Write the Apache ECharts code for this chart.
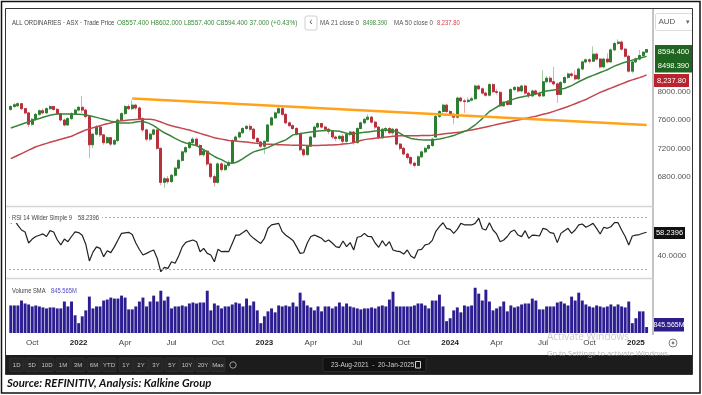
<!DOCTYPE html>
<html>
<head>
<meta charset="utf-8">
<title>ALL ORDINARIES weekly</title>
<script src="https://cdn.jsdelivr.net/npm/echarts@6/dist/echarts.min.js"></script>
<style>
html,body{margin:0;padding:0;background:#fff;}
#chart{width:702px;height:395px;}
</style>
</head>
<body>
<div id="chart"></div>
<script>
// ---------- data: weekly bars starting 23-Aug-2021 ----------
const firstWeek = '2021-08-23';
const opens = [
7750,7790,7800,7830,7760,7700,7540,7610,7680,7730,
7700,7760,7790,7750,7690,7600,7530,7620,7690,7740,
7780,7740,7650,7250,7400,7500,7390,7280,7350,7260,
7310,7600,7690,7790,7760,7810,7770,7620,7460,7330,
7400,7460,7200,6720,6770,6730,6820,6920,7030,7150,
7210,7280,7330,7240,7110,7160,6980,6800,6720,6980,
6900,6960,7000,7310,7360,7420,7480,7510,7470,7340,
7290,7230,7300,7530,7630,7700,7760,7680,7560,7520,
7480,7400,7180,7110,7230,7360,7500,7550,7500,7470,
7440,7360,7340,7370,7300,7400,7430,7280,7480,7560,
7610,7640,7570,7500,7350,7470,7480,7420,7470,7260,
7200,7120,7070,6990,6960,7080,7150,7200,7240,7360,
7650,7720,7810,7720,7680,7640,7910,7870,7860,7880,
7900,8080,8040,7980,7950,8100,8000,7990,7800,7850,
7820,8030,8060,8010,8080,7980,7940,8010,7970,7940,
8140,8190,8140,8110,7960,8130,8200,8250,8230,8180,
8320,8420,8450,8430,8530,8460,8350,8460,8420,8590,
8680,8700,8600,8500,8290,8420,8460,8510,8557.4];
const closes = [
7790,7815,7830,7760,7700,7540,7610,7680,7730,7700,
7760,7790,7750,7690,7600,7530,7620,7690,7740,7780,
7740,7650,7250,7400,7500,7390,7280,7350,7260,7310,
7600,7690,7790,7760,7810,7770,7620,7460,7330,7400,
7460,7200,6720,6770,6730,6820,6920,7030,7150,7210,
7280,7330,7240,7110,7160,6980,6800,6720,6980,6900,
6960,7000,7310,7360,7420,7480,7510,7470,7340,7290,
7230,7300,7530,7630,7700,7760,7680,7560,7520,7480,
7400,7180,7110,7230,7360,7500,7550,7500,7470,7440,
7360,7340,7370,7300,7400,7430,7280,7480,7560,7610,
7640,7570,7500,7350,7470,7480,7420,7470,7260,7200,
7120,7070,6990,6960,7080,7150,7200,7240,7330,7650,
7720,7810,7720,7680,7640,7910,7870,7860,7880,7900,
8080,8040,7980,7950,8100,8000,7990,7800,7850,7820,
8030,8060,8010,8080,7980,7940,8010,7970,7940,8140,
8190,8140,8110,7960,8130,8200,8250,8230,8180,8320,
8420,8450,8430,8530,8460,8350,8460,8420,8590,8680,
8700,8600,8500,8290,8420,8460,8510,8557.4,8594.4];
const lows = [
7730,7770,7780,7740,7680,7500,7520,7590,7660,7680,
7690,7740,7730,7670,7580,7510,7520,7600,7670,7720,
7700,7620,7060,7200,7380,7360,7250,7260,7230,7240,
7290,7580,7670,7740,7740,7740,7600,7430,7300,7300,
7380,7180,6680,6640,6700,6710,6800,6900,7010,7130,
7190,7260,7220,7090,7080,6950,6770,6660,6700,6870,
6880,6930,6990,7290,7340,7400,7460,7440,7320,7270,
7200,7120,7290,7520,7620,7690,7660,7540,7500,7460,
7380,7160,7080,7100,7220,7350,7480,7480,7440,7400,
7330,7300,7310,7240,7260,7370,7250,7270,7470,7540,
7590,7550,7470,7330,7330,7420,7400,7390,7240,7170,
7100,7040,6960,6930,6950,7060,7130,7180,7220,7350,
7630,7700,7700,7660,7540,7620,7850,7700,7840,7860,
7880,8020,7960,7930,7930,7980,7960,7780,7790,7800,
7810,8010,7990,7990,7960,7910,7920,7950,7920,7930,
8120,8120,8090,7840,7950,8110,8180,8200,8160,8170,
8300,8400,8400,8420,8440,8330,8330,8400,8410,8570,
8660,8580,8480,8270,8260,8400,8440,8480,8557.4];
const highs = [
7810,7840,7850,7840,7770,7710,7630,7700,7750,7760,
7780,7810,7800,7770,7700,7620,7640,7710,7760,7800,
7940,7760,7660,7420,7530,7520,7400,7370,7360,7330,
7620,7710,7810,7820,7880,7830,7790,7640,7480,7420,
7480,7470,7210,6800,6810,6840,6940,7050,7170,7230,
7300,7360,7350,7260,7180,7170,7000,6830,7000,7010,
6990,7030,7330,7380,7440,7500,7530,7540,7490,7360,
7300,7310,7540,7650,7720,7790,7780,7700,7580,7540,
7500,7410,7200,7250,7380,7520,7570,7560,7520,7490,
7460,7380,7390,7400,7420,7450,7440,7500,7580,7630,
7680,7660,7590,7510,7490,7500,7500,7490,7480,7280,
7220,7140,7090,7010,7100,7170,7220,7260,7350,7670,
7740,7830,7830,7740,7700,7930,7930,7900,7920,7930,
8100,8100,8060,8000,8120,8120,8040,8010,7870,7880,
8050,8080,8080,8100,8100,8000,8030,8030,8000,8300,
8220,8220,8350,8130,8150,8220,8270,8270,8300,8340,
8440,8470,8470,8640,8550,8470,8480,8540,8610,8700,
8740,8720,8620,8520,8440,8480,8590,8570,8602];
const ma21 = [
7486,7505,7522,7540,7558,7574,7590,7607,7622,7638,
7652,7666,7679,7683,7685,7686,7685,7684,7682,7681,
7679,7670,7660,7650,7637,7623,7610,7597,7584,7572,
7560,7558,7558,7559,7562,7572,7580,7580,7566,7545,
7520,7487,7450,7420,7395,7370,7340,7315,7292,7275,
7262,7250,7238,7210,7180,7150,7115,7085,7060,7040,
7012,6990,6990,7000,7025,7054,7090,7122,7150,7166,
7180,7195,7210,7235,7260,7280,7300,7320,7355,7390,
7400,7408,7416,7425,7432,7438,7445,7449,7452,7455,
7450,7445,7440,7428,7414,7400,7405,7414,7420,7426,
7432,7438,7444,7450,7455,7460,7455,7448,7438,7410,
7380,7360,7340,7332,7325,7320,7318,7317,7318,7325,
7333,7342,7355,7368,7380,7400,7420,7440,7460,7495,
7530,7575,7620,7670,7720,7750,7780,7812,7845,7862,
7880,7898,7915,7925,7935,7945,7957,7968,7980,7995,
8010,8017,8024,8030,8038,8045,8065,8086,8113,8140,
8165,8190,8210,8230,8250,8270,8290,8310,8335,8360,
8380,8400,8415,8430,8445,8460,8472,8485,8498.39];
const ma50 = [
7054,7078,7102,7126,7150,7174,7198,7222,7238,7254,
7270,7285,7300,7314,7328,7342,7356,7370,7393,7416,
7438,7460,7475,7490,7505,7520,7535,7547,7559,7571,
7582,7588,7594,7600,7604,7607,7609,7610,7610,7609,
7605,7590,7572,7552,7532,7518,7506,7494,7482,7470,
7460,7443,7427,7411,7395,7380,7365,7350,7340,7330,
7320,7310,7306,7302,7298,7294,7288,7282,7276,7270,
7265,7260,7258,7256,7254,7252,7250,7248,7246,7245,
7244,7243,7242,7241,7240,7240,7241,7243,7244,7246,
7247,7251,7255,7260,7265,7270,7283,7296,7310,7323,
7330,7336,7342,7348,7354,7360,7365,7370,7375,7376,
7377,7378,7378,7379,7379,7380,7380,7380,7384,7390,
7396,7402,7408,7414,7420,7425,7430,7440,7450,7460,
7470,7480,7491,7502,7513,7524,7535,7546,7557,7568,
7579,7590,7600,7611,7622,7633,7644,7654,7667,7680,
7692,7705,7722,7739,7756,7773,7790,7810,7830,7850,
7870,7890,7915,7940,7965,7990,8010,8030,8050,8070,
8090,8110,8130,8150,8166,8182,8198,8215,8237.8];
const rsi14 = [
65.1,67.7,63.5,60,58.5,50,53,55,56,57,
55,59.5,58.5,52.5,48.5,53,51,55,58.5,58,
56,49,36.2,43,47,45.9,39.5,44,42.6,47,
52.3,57.4,57.8,58.2,56.5,50,45,40.8,42,43.5,
44.6,38.2,27.9,31.3,30.5,35.6,34.4,40,47,50.5,
51.5,52.3,51,43.3,45.9,42,40.8,35.6,45.1,43.3,
43.5,43.3,49.7,56.1,56.1,58,60,56.1,53.6,51.5,
49.7,53.6,61.3,63.9,64.5,65.1,58.7,56,54,52,
47.2,42,42.5,50,55,56.1,54.9,53.6,51,52.3,
50,47.2,46.5,51.5,47.2,50.3,44.6,54.4,55,57.4,
55,54.9,50,46.7,51.8,47.7,51,44.6,43.8,43.3,
41.5,44.6,40,38.2,44.6,45.1,48.5,49.2,52,59,
62.6,65.6,61.3,60.5,57.4,60.5,65.1,64,63.9,63.9,
65.1,69,61,60,65.6,60,57,51,52.3,55,
58.7,60,56.1,54.9,59.5,53.6,56.1,55.8,55.4,61.3,
60.5,58,57.4,50.3,57.4,59.5,61.3,57.4,60,63.9,
64.6,62.1,63.5,65.1,61.3,56.9,62.1,61.3,62.5,65.6,
65.6,60,55,48.5,55.4,56,56.5,57.5,58.2396];
const volumeBn = [
3.92,3.92,3.92,4.62,4.2,4.06,3.78,3.92,3.78,3.64,
3.5,3.64,3.64,3.5,3.5,4.48,3.78,4.48,2.52,1.4,
2.38,3.22,5.18,3.5,3.78,3.78,4.62,4.76,5.04,4.9,
4.9,5.32,5.04,3.36,3.36,3.78,4.48,5.04,3.78,4.48,
5.32,4.48,6.02,4.62,5.18,3.5,3.78,3.78,3.92,3.78,
4.2,4.34,4.2,4.34,4.34,6.02,3.22,4.2,3.92,3.5,
3.78,3.78,4.06,4.34,4.2,3.78,4.9,3.92,4.48,3.22,
1.4,2.38,3.08,3.5,2.94,3.92,3.78,3.92,3.78,4.34,
3.78,5.74,4.62,3.92,3.64,3.22,3.78,3.08,3.78,3.78,
3.5,3.78,4.34,3.78,4.2,3.78,3.64,3.5,3.36,3.5,
3.5,3.64,3.5,3.78,3.92,3.78,4.76,5.88,3.78,3.78,
3.78,3.78,3.78,3.92,4.2,4.2,3.92,3.5,4.62,4.62,
5.46,3.78,1.68,2.1,3.22,3.64,2.94,3.92,3.78,3.92,
6.44,5.6,4.62,6.16,4.48,3.22,3.5,3.78,4.48,3.08,
3.92,3.64,3.78,4.06,4.2,4.2,4.9,4.62,3.36,3.36,
3.78,3.78,3.78,4.34,4.48,4.2,3.92,5.18,4.62,5.74,
4.62,4.06,3.78,3.64,3.92,3.78,3.64,3.78,4.06,3.78,
4.06,3.78,3.64,4.48,1.4,2.1,3.08,3.08,0.845565];
const priceTicks = [6800, 7200, 7600, 8000];
const rsiLevels = [70, 30];
const rsiTicks = [40];
const trendStart = {week: 34, value: 7905};
const trendEnd = {week: 178, value: 7528};
const quarterMonths = ['Jan', 'Apr', 'Jul', 'Oct'];
const rangeButtons = ['1D','5D','10D','1M','3M','6M','YTD','1Y','2Y','3Y','5Y','10Y','20Y','Max'];

// ---------- derived structures ----------
const N = closes.length;
const DAY = 864e5;
const t0 = Date.parse(firstWeek + 'T00:00:00Z');
const categories = closes.map((_, i) => new Date(t0 + i * 7 * DAY).toISOString().slice(0, 10));
const quarterLabel = {};
for (let y = 2021; y <= 2025; y++) {
  quarterMonths.forEach((name, q) => {
    const idx = Math.round((Date.UTC(y, q * 3, 1) - t0) / (7 * DAY));
    if (idx >= 0 && idx < N) quarterLabel[idx] = q === 0 ? '{yr|' + y + '}' : '{mo|' + name + '}';
  });
}
const candleFull = closes.map((c, i) => [opens[i], c, lows[i], highs[i]]);
const candleBody = closes.map((c, i) => [opens[i], c, Math.min(opens[i], c), Math.max(opens[i], c)]);

const L = N - 1;
const chg = closes[L] - closes[L - 1];
const pct = chg / closes[L - 1] * 100;
const ohlcText = 'O' + opens[L].toFixed(3) + ' H' + highs[L].toFixed(3) + ' L' + lows[L].toFixed(3) +
  ' C' + closes[L].toFixed(3) + ' ' + chg.toFixed(3) + ' (' + (pct >= 0 ? '+' : '') + pct.toFixed(2) + '%)';
const ma21Text = ma21[L].toFixed(3);
const ma50Text = ma50[L].toLocaleString('en-US', {minimumFractionDigits: 2, maximumFractionDigits: 2});
const rsiText = rsi14[L].toFixed(4);
const volText = (volumeBn[L] * 1000).toFixed(3) + 'M';
const MON = ['Jan','Feb','Mar','Apr','May','Jun','Jul','Aug','Sep','Oct','Nov','Dec'];
function fmtDate(s) { const p = s.split('-'); return p[2] + '-' + MON[+p[1] - 1] + '-' + p[0]; }

// ---------- graphics helpers ----------
const FONT = '"Liberation Sans", Arial, sans-serif';
function txt(x, y, text, size, fill, opt) {
  opt = opt || {};
  return {type: 'text', x: x, y: y, scaleX: opt.sx || 1, silent: true, z: opt.z || 120,
    style: {text: text, fill: fill,
      font: (opt.style || 'normal') + ' ' + (opt.weight || 'normal') + ' ' + size + 'px ' + (opt.family || FONT),
      textAlign: opt.align || 'left', textVerticalAlign: 'middle', verticalAlign: 'middle', opacity: opt.opacity == null ? 1 : opt.opacity}};
}
function box(x, y, w, h, fill, stroke, r, z, lw) {
  return {type: 'rect', silent: true, z: z || 110, shape: {x: x, y: y, width: w, height: h, r: r || 0},
    style: {fill: fill || 'none', stroke: stroke || null, lineWidth: lw || 1}};
}
function seg(x1, y1, x2, y2, color, w, z) {
  return {type: 'line', silent: true, z: z || 100, shape: {x1: x1, y1: y1, x2: x2, y2: y2}, style: {stroke: color, lineWidth: w || 1}};
}
const NARROW = 0.83;

const g = [];
// frames
g.push(box(1.5, 1.5, 698.5, 391.5, null, '#111', 0, 130, 1.5));
g.push(box(5.5, 8.5, 687, 366, null, '#333', 0, 130, 1));
g.push(seg(653, 8.5, 653, 335, '#8a8a8a', 1));
g.push(seg(5.5, 206.5, 653, 206.5, '#d4d4d4', 1.5));
g.push(seg(5.5, 278.5, 653, 278.5, '#d4d4d4', 1.5));
// header
g.push(txt(12, 23, 'ALL ORDINARIES \u00b7 ASX \u00b7 Trade Price', 7, '#444', {sx: 0.85}));
g.push(txt(117, 23, ohlcText, 7, '#3b8a3b', {sx: 0.92}));
g.push(box(305, 16, 12, 14, '#fff', '#cfcfcf', 2));
g.push(txt(311, 22.5, '\u2039', 10, '#555', {align: 'center'}));
g.push(txt(320, 23, 'MA 21 close 0', 7, '#555', {sx: 0.88}));
g.push(txt(363, 23, ma21Text, 7, '#3b8a3b', {sx: NARROW}));
g.push(txt(394, 23, 'MA 50 close 0', 7, '#555', {sx: 0.88}));
g.push(txt(437, 23, ma50Text, 7, '#d0444c', {sx: NARROW}));
// currency selector
g.push(box(655.5, 13.5, 37, 17, '#fff', '#dcdcdc', 2));
g.push(txt(658.5, 22, 'AUD', 8, '#555'));
g.push(txt(688, 22.5, '\u25be', 7, '#666', {align: 'center'}));
// price value boxes
g.push(box(655, 45, 37, 14, '#1f6420', null, 0, 115));
g.push(txt(673.5, 52, closes[L].toFixed(3), 7.5, '#fff', {align: 'center'}));
g.push(box(655, 59, 37, 13.5, '#1f6420', null, 0, 115));
g.push(txt(673.5, 66, ma21Text, 7.5, '#fff', {align: 'center'}));
g.push(box(654, 74, 35, 13, '#b8232e', null, 0, 115));
g.push(txt(671.5, 80.5, ma50Text, 7.5, '#fff', {align: 'center'}));
// RSI panel labels
g.push(box(10, 213, 92, 10, '#fff', null, 0, 112));
g.push(txt(12, 218, 'RSI 14 Wilder Simple 9', 7, '#444', {sx: NARROW}));
g.push(txt(78, 218, rsiText, 7, '#444', {sx: NARROW}));
g.push(box(654, 227, 31, 12, '#111', null, 0, 115));
g.push(txt(669.5, 233, rsiText, 7.5, '#fff', {align: 'center'}));
// volume panel labels
g.push(txt(12, 291, 'Volume SMA', 7, '#444', {sx: NARROW}));
g.push(txt(51, 291, volText, 7, '#4b4bc8', {sx: NARROW}));
g.push(box(654, 318, 30, 13.5, '#2c1e88', null, 0, 115));
g.push(txt(669, 325, volText, 7, '#fff', {align: 'center'}));
// axis settings icon
g.push({type: 'circle', silent: true, z: 120, shape: {cx: 673, cy: 343, r: 4}, style: {fill: 'none', stroke: '#808080', lineWidth: 1}});
g.push({type: 'circle', silent: true, z: 120, shape: {cx: 673, cy: 343, r: 1.4}, style: {fill: '#808080'}});
// toolbar
g.push(box(6, 355, 686, 19, '#1c1c1c', null, 0, 110));
const btnX = [16.7, 32, 47, 63, 78, 94, 109, 126, 141, 156, 172, 187, 203, 218];
rangeButtons.forEach((b, i) => {
  g.push(box(btnX[i] - 7, 358, 14, 13.5, '#252525', '#2f2f2f', 1, 112));
  g.push(txt(btnX[i], 365, b, 6, '#c4c4c4', {align: 'center'}));
});
g.push({type: 'circle', silent: true, z: 120, shape: {cx: 233, cy: 365, r: 3.2}, style: {fill: 'none', stroke: '#9a9a9a', lineWidth: 1}});
g.push(box(323, 357.5, 103, 14, '#111', '#2c2c2c', 1, 112));
g.push(txt(331, 365, fmtDate(categories[0]) + '  -  ' + fmtDate(categories[L]), 6.5, '#cfcfcf'));
g.push(box(415.5, 361.5, 5, 6.5, null, '#cfcfcf', 0, 120));
// OS watermark
g.push(txt(547, 337, 'Activate Windows', 10, '#b8b8b8', {family: '"Open Sans", sans-serif', opacity: 0.75}));
g.push(txt(547, 354, 'Go to Settings to activate Windows.', 7.5, '#a0a0a0', {family: '"Open Sans", sans-serif', opacity: 0.75}));
// source line
g.push(txt(7, 383.5, 'Source: REFINITIV, Analysis: Kalkine Group', 11.3, '#111', {style: 'italic', weight: 'bold', family: 'Lato, "Open Sans", sans-serif'}));

// ---------- chart ----------
const GL = 9, GR = 53.6;
const axisFont = {fontFamily: FONT};
const chart = echarts.init(document.getElementById('chart'), null, {renderer: 'canvas'});
chart.setOption({
  animation: false,
  backgroundColor: '#fff',
  grid: [
    {left: GL, right: GR, top: 35, height: 170},
    {left: GL, right: GR, top: 204, height: 78},
    {left: GL, right: GR, top: 281, height: 52}
  ],
  xAxis: [0, 1, 2].map(k => ({
    type: 'category', gridIndex: k, data: categories, boundaryGap: true,
    axisLine: {show: false}, axisTick: {show: false}, splitLine: {show: false},
    axisLabel: k === 2 ? {
      show: true, margin: 6, hideOverlap: false,
      interval: (i) => quarterLabel[i] !== undefined,
      formatter: (v, i) => quarterLabel[i] || '',
      rich: {
        yr: {fontSize: 8, fontWeight: 'bold', color: '#222', fontFamily: FONT},
        mo: {fontSize: 8, color: '#444', fontFamily: FONT}
      }
    } : {show: false}
  })),
  yAxis: [
    {type: 'value', gridIndex: 0, position: 'right', min: 6400, max: 8800, interval: 400, scale: true,
     axisLine: {show: false}, axisTick: {show: false}, splitLine: {show: false},
     axisLabel: Object.assign({margin: 9, fontSize: 8, color: '#555',
       formatter: v => priceTicks.indexOf(v) >= 0 ? v.toFixed(3) : ''}, axisFont)},
    {type: 'value', gridIndex: 1, position: 'right', min: 20, max: 80, interval: 10,
     axisLine: {show: false}, axisTick: {show: false}, splitLine: {show: false},
     axisLabel: Object.assign({margin: 9, fontSize: 8, color: '#555',
       formatter: v => rsiTicks.indexOf(v) >= 0 ? v.toFixed(4) : ''}, axisFont)},
    {type: 'value', gridIndex: 2, position: 'right', min: 0, max: 7.4,
     axisLine: {show: false}, axisTick: {show: false}, splitLine: {show: false}, axisLabel: {show: false}}
  ],
  series: [
    {type: 'candlestick', name: 'range', xAxisIndex: 0, yAxisIndex: 0, data: candleFull, barWidth: '70%', silent: true,
     itemStyle: {color: '#a3d0a3', color0: '#eba6ad', borderColor: '#a3d0a3', borderColor0: '#eba6ad', borderWidth: 1}},
    {type: 'candlestick', name: 'body', xAxisIndex: 0, yAxisIndex: 0, data: candleBody, barWidth: '70%', silent: true,
     itemStyle: {color: '#2f7d32', color0: '#b8303c', borderColor: '#2f7d32', borderColor0: '#b8303c', borderWidth: 1}},
    {type: 'line', name: 'MA 50', xAxisIndex: 0, yAxisIndex: 0, data: ma50, symbol: 'none', silent: true,
     lineStyle: {color: '#c4464f', width: 1.5}},
    {type: 'line', name: 'MA 21', xAxisIndex: 0, yAxisIndex: 0, data: ma21, symbol: 'none', silent: true,
     lineStyle: {color: '#3a853a', width: 1.5},
     markLine: {silent: true, symbol: ['none', 'none'], label: {show: false},
       lineStyle: {color: '#ffa31a', width: 2.5, type: 'solid'},
       data: [[{coord: [categories[trendStart.week], trendStart.value]}, {coord: [categories[trendEnd.week], trendEnd.value]}]]}},
    {type: 'line', name: 'RSI', xAxisIndex: 1, yAxisIndex: 1, data: rsi14, symbol: 'none', silent: true,
     lineStyle: {color: '#222', width: 1.2},
     markLine: {silent: true, symbol: ['none', 'none'], label: {show: false},
       lineStyle: {color: '#a8a8a8', type: [2, 2], width: 1},
       data: rsiLevels.map(v => ({yAxis: v}))}},
    {type: 'bar', name: 'Volume', xAxisIndex: 2, yAxisIndex: 2, data: volumeBn, barWidth: '82%', silent: true,
     itemStyle: {color: '#2c1e92'}}
  ],
  graphic: {elements: g}
});
</script>
</body>
</html>
